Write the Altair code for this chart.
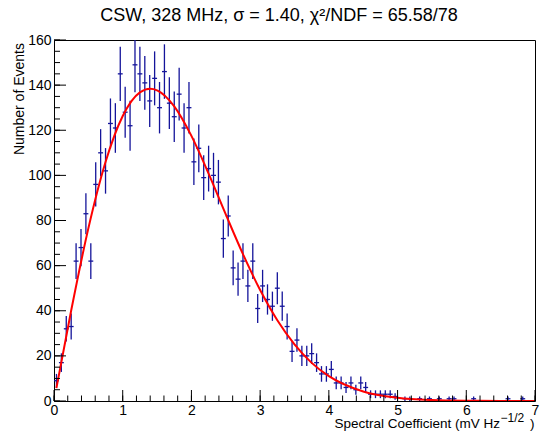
import altair as alt
import pandas as pd
import numpy as np

# ---- data ----
counts = [9, 17, 32, 33, 62, 68, 83, 62, 96, 110,
          102, 123, 121, 145, 128, 122, 149, 145, 141, 133,
          143, 130, 146, 132, 126, 136, 121, 130, 106, 112,
          99, 103, 100, 97, 72, 82, 59, 54, 62, 51,
          62, 41, 51, 45, 42, 50, 42, 33, 22, 27,
          20, 20, 21, 17, 12, 12, 14, 8, 8, 6,
          8, 5, 8, 6, 3, 3, 3, 3, 3, 2,
          0, 1, 1, 0, 1, 0, 1, 0, 1, 0,
          1, 1, 0, 0, 0, 1, 0, 0, 0, 0,
          0, 0, 1, 0, 0, 1, 0, 0]
n_bins = 98
x_lo, x_hi = 0.0, 7.0

fit_x = [0.035, 0.25, 0.5, 0.75, 1.0, 1.25, 1.4, 1.5, 1.75, 2.0, 2.25, 2.5,
         2.75, 3.0, 3.25, 3.5, 3.75, 4.0, 4.5, 5.0, 5.5, 6.0, 6.5, 7.0]
fit_y = [5.7, 40.1, 76.5, 105.9, 126.3, 136.8, 138.4, 137.7, 130.6, 117.5, 100.8, 82.7,
         65.1, 49.2, 35.8, 25.1, 16.9, 11.0, 4.2, 1.4, 0.4, 0.1, 0.02, 0.0]

x_tick_labels = [0, 1, 2, 3, 4, 5, 6, 7]
y_tick_labels = [0, 20, 40, 60, 80, 100, 120, 140, 160]

title_text = "CSW, 328 MHz, \u03c3 = 1.40, \u03c7\u00b2/NDF = 65.58/78"
xtitle_main = "Spectral Coefficient (mV Hz"
xtitle_sup = "\u22121/2"
xtitle_end = ")"
ytitle = "Number of Events"

# ---- tables ----
bw = (x_hi - x_lo) / n_bins
rows = []
for k, n in enumerate(counts):
    if n <= 0:
        continue
    c = x_lo + (k + 0.5) * bw
    e = float(np.sqrt(n))
    rows.append(dict(center=c, lo=c - bw / 2, hi=c + bw / 2, n=n, elo=n - e, ehi=n + e))
hist = pd.DataFrame(rows)
fit = pd.DataFrame(dict(x=fit_x, y=fit_y))

xmaj = pd.DataFrame(dict(v=x_tick_labels))
xmin_t = pd.DataFrame(dict(v=[round(v, 2) for v in np.arange(0, 7.0001, 0.2)]))
ymaj = pd.DataFrame(dict(v=y_tick_labels))
ymin_t = pd.DataFrame(dict(v=list(range(0, 161, 5))))

W, H = 481, 361
FONT = "Liberation Sans"
BLUE = "#14149a"

xs = alt.Scale(domain=[x_lo, x_hi], nice=False, zero=False)
ys = alt.Scale(domain=[0, 160], nice=False, zero=False)

x_axis = alt.Axis(values=x_tick_labels, format="d", title=None, grid=False, ticks=False,
                  domain=False, labelFontSize=14, labelFont=FONT, labelColor="black",
                  labelPadding=2, labelFlush=False)
y_axis = alt.Axis(values=y_tick_labels, format="d", title=None, grid=False, ticks=False,
                  domain=False, labelFontSize=14, labelFont=FONT, labelColor="black",
                  labelPadding=3)

vbars = alt.Chart(hist).mark_rule(color=BLUE, strokeWidth=1.3, clip=True).encode(
    x=alt.X("center:Q", scale=xs, axis=x_axis),
    y=alt.Y("elo:Q", scale=ys, axis=y_axis),
    y2="ehi:Q",
)
hbars = alt.Chart(hist).mark_rule(color=BLUE, strokeWidth=1.3, clip=True).encode(
    x=alt.X("lo:Q", scale=xs), x2="hi:Q", y=alt.Y("n:Q", scale=ys)
)
curve = alt.Chart(fit).mark_line(color="#ff0000", strokeWidth=2, interpolate="monotone",
                                 clip=True).encode(
    x=alt.X("x:Q", scale=xs), y=alt.Y("y:Q", scale=ys)
)

xt_major = alt.Chart(xmaj).mark_rule(color="black", strokeWidth=1).encode(
    x=alt.X("v:Q", scale=xs), y=alt.value(H), y2=alt.value(H - 11))
xt_minor = alt.Chart(xmin_t).mark_rule(color="black", strokeWidth=1).encode(
    x=alt.X("v:Q", scale=xs), y=alt.value(H), y2=alt.value(H - 5.5))
yt_major = alt.Chart(ymaj).mark_rule(color="black", strokeWidth=1).encode(
    y=alt.Y("v:Q", scale=ys), x=alt.value(0), x2=alt.value(12))
yt_minor = alt.Chart(ymin_t).mark_rule(color="black", strokeWidth=1).encode(
    y=alt.Y("v:Q", scale=ys), x=alt.value(0), x2=alt.value(6))

def label(text, x, y, size, align="center", angle=0, baseline="alphabetic"):
    return alt.Chart(pd.DataFrame(dict(t=[text]))).mark_text(
        font=FONT, fontSize=size, align=align, baseline=baseline, angle=angle, color="black"
    ).encode(x=alt.value(x), y=alt.value(y), text="t:N")

t_title = label(title_text, 225, -19, 18)
t_x1 = label(xtitle_main, 446, 388, 13.5, align="right")
t_x2 = label(xtitle_sup, 446.5, 382, 12, align="left")
t_x3 = label(xtitle_end, 476, 388, 13.5, align="left")
t_y = label(ytitle, -34, 3, 14, align="right", angle=270, baseline="middle")

chart = alt.layer(
    vbars, hbars, curve, xt_major, xt_minor, yt_major, yt_minor,
    t_title, t_x1, t_x2, t_x3, t_y
).properties(
    width=W, height=H, autosize="none",
    padding={"left": 46, "top": 32, "right": 6, "bottom": 30},
    background="white",
).configure_view(stroke="black", strokeWidth=1)

chart.save("out.html", embed_options={"renderer": "svg", "actions": False})
